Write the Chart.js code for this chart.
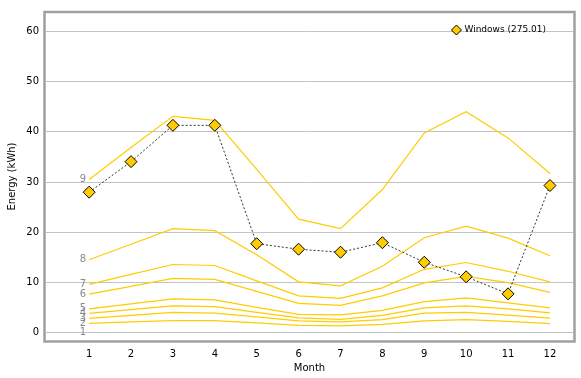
<!DOCTYPE html>
<html>
<head>
<meta charset="utf-8">
<script src="https://cdn.jsdelivr.net/npm/chart.js@4/dist/chart.umd.min.js"></script>
<style>
  html, body { margin: 0; padding: 0; background: #fff; }
  canvas { display: block; }
</style>
</head>
<body>
<canvas id="energy" width="581" height="378"></canvas>
<script>
const months = [1, 2, 3, 4, 5, 6, 7, 8, 9, 10, 11, 12];
const yTicks = [0, 10, 20, 30, 40, 50, 60];

const windowsLabel = 'Windows (275.01)';
const windows = [27.97, 34.06, 41.3, 41.3, 17.7, 16.6, 16.0, 17.9, 14.0, 11.1, 7.7, 29.3];

// reference lines, labelled 1..9 at the left
const line1 = [0, 0, 0, 0, 0, 0, 0, 0, 0, 0, 0, 0];
const line2 = [1.8, 2.1, 2.35, 2.35, 1.9, 1.4, 1.3, 1.6, 2.3, 2.55, 2.2, 1.75];
const line3 = [2.8, 3.4, 4.0, 3.85, 3.1, 2.3, 2.1, 2.55, 3.85, 4.0, 3.45, 2.85];
const line4 = [3.8, 4.55, 5.3, 5.15, 4.0, 2.9, 2.6, 3.4, 4.9, 5.3, 4.7, 3.9];
const line5 = [4.7, 5.7, 6.7, 6.5, 5.0, 3.6, 3.5, 4.4, 6.15, 6.9, 5.9, 4.9];
const line6 = [7.65, 9.2, 10.8, 10.6, 8.2, 5.8, 5.4, 7.3, 9.9, 11.2, 9.95, 8.0];
const line7 = [9.6, 11.6, 13.55, 13.35, 10.3, 7.3, 6.8, 8.9, 12.6, 13.95, 12.2, 10.1];
const line8 = [14.5, 17.6, 20.7, 20.3, 15.5, 10.1, 9.3, 13.2, 18.9, 21.2, 18.8, 15.3];
const line9 = [30.5, 36.9, 43.1, 42.3, 32.5, 22.6, 20.7, 28.5, 39.8, 44.0, 38.8, 31.7];

const refLines = [line1, line2, line3, line4, line5, line6, line7, line8, line9];

const FONT = 'DejaVu Sans';
const GOLD = '#ffcc00';
const GRID = '#c4c4c4';

const toPoints = (vals) => vals.map((v, i) => ({ x: months[i], y: v }));

const datasets = refLines.map((vals, i) => ({
  label: String(i + 1),
  lineLabel: String(i + 1),
  data: toPoints(vals),
  borderColor: GOLD,
  borderWidth: 1.2,
  pointRadius: 0,
  tension: 0,
  fill: false,
  order: 2
}));

datasets.push({
  label: windowsLabel,
  data: toPoints(windows),
  borderColor: '#333',
  borderWidth: 1,
  borderDash: [2, 2],
  pointStyle: 'rectRot',
  pointRadius: 6,
  pointBackgroundColor: GOLD,
  pointBorderColor: '#000',
  pointBorderWidth: 1,
  tension: 0,
  fill: false,
  order: 1
});

const extras = {
  id: 'extras',
  afterDatasetsDraw(chart) {
    const { ctx, chartArea, scales } = chart;
    ctx.save();
    // zero line sits on top of line 1
    const y0 = Math.round(scales.y.getPixelForValue(0)) + 0.5;
    ctx.strokeStyle = GRID;
    ctx.lineWidth = 1;
    ctx.beginPath();
    ctx.moveTo(chartArea.left, y0);
    ctx.lineTo(chartArea.right, y0);
    ctx.stroke();

    // numbers at the start of each reference line
    ctx.font = '10px ' + FONT;
    ctx.fillStyle = '#8a8a8a';
    ctx.textAlign = 'right';
    ctx.textBaseline = 'middle';
    chart.data.datasets.forEach((ds, i) => {
      if (!ds.lineLabel) return;
      const pt = chart.getDatasetMeta(i).data[0];
      ctx.fillText(ds.lineLabel, pt.x - 3, pt.y);
    });

    // legend inside the plot, top right
    const ly = chartArea.top + 17;
    ctx.font = '9px ' + FONT;
    ctx.fillStyle = '#000';
    ctx.textAlign = 'right';
    const tx = chartArea.right - 27;
    ctx.fillText(windowsLabel, tx, ly);
    const tw = ctx.measureText(windowsLabel).width;
    const mx = tx - tw - 8;
    const r = 5;
    ctx.beginPath();
    ctx.moveTo(mx, ly - r);
    ctx.lineTo(mx + r, ly);
    ctx.lineTo(mx, ly + r);
    ctx.lineTo(mx - r, ly);
    ctx.closePath();
    ctx.fillStyle = GOLD;
    ctx.fill();
    ctx.strokeStyle = '#000';
    ctx.stroke();
    ctx.restore();
  },
  afterDraw(chart) {
    const { ctx, chartArea } = chart;
    ctx.save();
    ctx.strokeStyle = '#a0a0a0';
    ctx.lineWidth = 2.5;
    ctx.strokeRect(chartArea.left - 1.5, chartArea.top - 1, chartArea.width + 3, chartArea.height + 2.5);
    ctx.restore();
  }
};

new Chart(document.getElementById('energy'), {
  type: 'line',
  data: { datasets: datasets },
  plugins: [extras],
  options: {
    responsive: false,
    animation: false,
    devicePixelRatio: 1,
    layout: { padding: { top: 8, right: 8, left: 0, bottom: 0 } },
    plugins: {
      legend: { display: false },
      tooltip: { enabled: false }
    },
    scales: {
      x: {
        type: 'linear',
        min: -0.03,
        max: 12.55,
        afterFit: (axis) => { axis.height = 38; },
        afterBuildTicks: (axis) => { axis.ticks = months.map(v => ({ value: v })); },
        grid: { display: false, drawTicks: false },
        border: { display: false },
        ticks: {
          padding: 8,
          color: '#000',
          font: { family: FONT, size: 10 },
          maxRotation: 0,
          autoSkip: false
        },
        title: {
          display: true,
          text: 'Month',
          color: '#000',
          font: { family: FONT, size: 10 },
          padding: { top: 0, bottom: 4 }
        }
      },
      y: {
        min: -1.5,
        max: 63.7,
        afterFit: (axis) => { axis.width = 46; },
        afterBuildTicks: (axis) => { axis.ticks = yTicks.map(v => ({ value: v })); },
        grid: { color: GRID, lineWidth: 1, drawTicks: false },
        border: { display: false },
        ticks: {
          padding: 7,
          color: '#000',
          font: { family: FONT, size: 10 }
        },
        title: {
          display: true,
          text: 'Energy (kWh)',
          color: '#000',
          font: { family: FONT, size: 10 },
          padding: { top: 6, bottom: 0 }
        }
      }
    }
  }
});
</script>
</body>
</html>
